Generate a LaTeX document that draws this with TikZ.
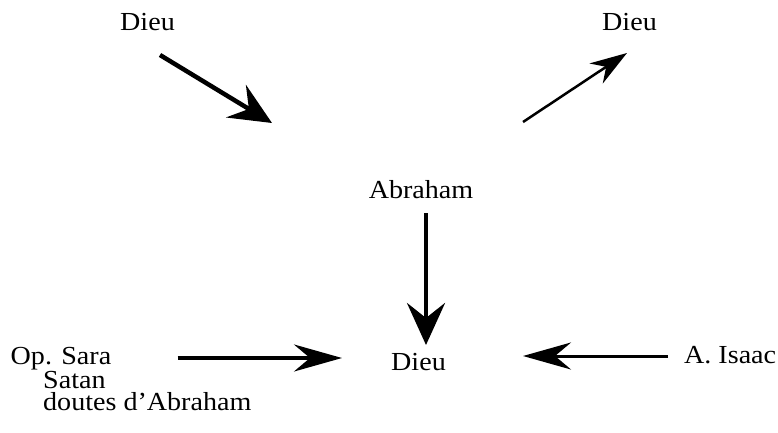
\documentclass[tikz,border=0pt]{standalone}
\usepackage{fontspec}
\setmainfont{Liberation Serif}[FakeStretch=1.08]
\usetikzlibrary{arrows.meta}
\begin{document}
\begin{tikzpicture}[x=1pt, y=-1pt,
        lbl/.style={inner sep=0pt, font=\fontsize{26}{21.6}\selectfont},
        heavy/.style={line width=4.5pt, -{Stealth[length=42pt, width=38pt, inset=15pt]}},
        flat/.style={line width=3.5pt, -{Stealth[length=48pt, width=27pt, inset=16pt]}},
        light/.style={line width=2.5pt, -{Stealth[length=37pt, width=24pt, inset=12pt]}}]
        \useasboundingbox (0,0) rectangle (778,433);

        % Names
        \node[lbl, anchor=base] (dieuA) at (147.5,31) {Dieu};
        \node[lbl, anchor=base] (dieuB) at (629.5,31) {Dieu};
        \node[lbl, anchor=base] (abraham) at (421,198) {Abraham};
        \node[lbl, anchor=base] (dieuC) at (418.5,370) {Dieu};
        \node[lbl, anchor=base west] (isaac) at (684,363) {A. Isaac};

        % Opposition (base = last line)
        \node[lbl, align=left, anchor=base west] (sara) at (10.5,410)
            {Op. Sara\\\hspace*{32.5pt}Satan\\\hspace*{32.5pt}doutes d'Abraham};

        % Arrows
        \draw[heavy] ([shift={(12.5,24)}]dieuA.base) -- ([shift={(-149,-75)}]abraham.base);
        \draw[light] ([shift={(102,-76)}]abraham.base) -- ([shift={(-2.5,22)}]dieuB.base);
        \draw[heavy] ([shift={(5,15)}]abraham.base) -- ([shift={(7.5,-25)}]dieuC.base);
        \draw[flat] ([shift={(167,-52)}]sara.base west) -- ([shift={(-76.5,-12)}]dieuC.base);
        \draw[flat, line width=3pt] ([shift={(-16,-7)}]isaac.base west) -- ([shift={(104.5,-14)}]dieuC.base);
\end{tikzpicture}
\end{document}
